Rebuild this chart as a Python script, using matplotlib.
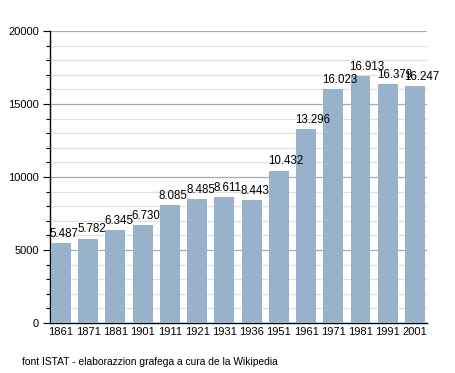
import matplotlib
matplotlib.use("Agg")
import matplotlib.pyplot as plt
from matplotlib.ticker import MultipleLocator

years = ["1861", "1871", "1881", "1901", "1911", "1921", "1931", "1936", "1951", "1961", "1971", "1981", "1991", "2001"]
population = [5487, 5782, 6345, 6730, 8085, 8485, 8611, 8443, 10432, 13296, 16023, 16913, 16379, 16247]
labels = ["5.487", "5.782", "6.345", "6.730", "8.085", "8.485", "8.611", "8.443", "10.432", "13.296", "16.023", "16.913", "16.379", "16.247"]

plt.rcParams['font.family'] = ['Liberation Sans', 'DejaVu Sans']

fig = plt.figure(figsize=(4.55, 3.73), dpi=100)
ax = fig.add_axes([50/455, 1-323/373, 377/455, 292/373])

x = list(range(len(years)))
bw = 0.73
ax.bar(x, population, width=bw, color="#98b2cc", zorder=3)
for xi, v, lab in zip(x, population, labels):
    ax.text(xi - bw/2 - 0.04, v + 220, lab, ha="left", va="bottom", fontsize=8.3, color="#000000", zorder=4)

ax.set_xlim(-0.40, 13.44)
ax.set_ylim(0, 20000)
ax.yaxis.set_major_locator(MultipleLocator(5000))
ax.yaxis.set_minor_locator(MultipleLocator(1000))
ax.grid(axis="y", which="major", color="#aaaaaa", linewidth=0.9, zorder=1)
ax.grid(axis="y", which="minor", color="#e0e0e0", linewidth=0.9, zorder=0)
ax.set_xticks(x)
ax.set_xticklabels(years)
ax.tick_params(axis="x", length=0, labelsize=8, pad=3)
ax.tick_params(axis="y", which="major", length=5, width=0.8, labelsize=8, pad=3)
ax.tick_params(axis="y", which="minor", length=3, width=0.8)
for s in ["top", "right"]:
    ax.spines[s].set_visible(False)
ax.spines["left"].set_linewidth(1.0)
ax.spines["bottom"].set_linewidth(1.0)

fig.text(22/455, 1-362/373, "font ISTAT - elaborazzion grafega a cura de la Wikipedia", fontsize=7.4, va="center", ha="left")

fig.savefig("out.png", dpi=100)
